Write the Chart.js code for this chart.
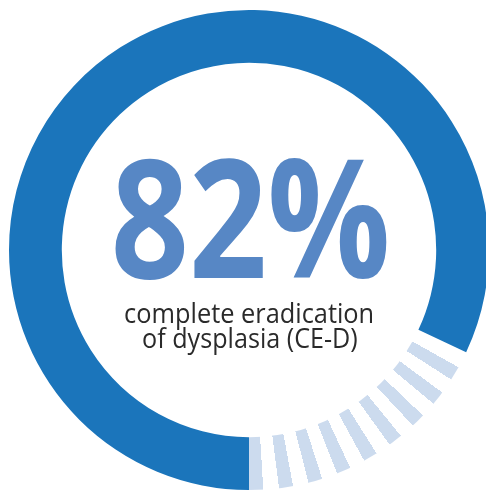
<!DOCTYPE html>
<html>
<head>
<meta charset="utf-8">
<script src="https://cdn.jsdelivr.net/npm/chart.js@4/dist/chart.umd.min.js"></script>
<style>
  html, body { margin: 0; padding: 0; background: #ffffff; overflow: hidden; width: 486px; height: 490px; }
  #wrap { position: absolute; left: 0; top: 0; width: 492px; height: 490px; }
</style>
</head>
<body>
<div id="wrap"><canvas id="chart" width="492" height="490"></canvas></div>
<script>
// ---- data ----
const categories = ['Complete eradication of dysplasia (CE-D)', 'No complete eradication'];
const values = [82, 18];
const headlineText = '82%';
const captionLines = ['complete eradication', 'of dysplasia (CE-D)'];

// ---- style ----
const DARK = '#1b75bb';
const LIGHT = '#ccdbee';
const HEAD_COLOR = '#5787c5';
const CAPTION_COLOR = '#2a2a2a';
const ROTATION_DEG = 180;
const STRIPE_PERIOD_DEG = 7.17;
const STRIPE_WIDTH_DEG = 3.4;

function stripeGradient(chart) {
  const area = chart.chartArea;
  if (!area) return LIGHT;
  const cx = (area.left + area.right) / 2;
  const cy = (area.top + area.bottom) / 2;
  const total = values.reduce((a, b) => a + b, 0);
  const start = (ROTATION_DEG - 90) * Math.PI / 180 + 2 * Math.PI * values[0] / total;
  const L = values[1] / total;
  const P = STRIPE_PERIOD_DEG / 360, W = STRIPE_WIDTH_DEG / 360;
  const g = chart.ctx.createConicGradient(start, cx, cy);
  const clear = 'rgba(255,255,255,0)';
  const stripes = [];
  for (let k = 0; ; k++) {
    const e = L - k * P, s = e - W;
    if (s < 0) break;
    stripes.push([s, e]);
  }
  stripes.reverse();
  g.addColorStop(0, clear);
  for (const [s, e] of stripes) {
    g.addColorStop(s, clear);
    g.addColorStop(s, LIGHT);
    g.addColorStop(e, LIGHT);
    g.addColorStop(Math.min(e + 0.00001, 1), clear);
  }
  g.addColorStop(1, clear);
  return g;
}

function drawFitted(ctx, text, font, color, left, right, baseline, inkHeight, measureStr) {
  ctx.save();
  ctx.font = font(100);
  ctx.textAlign = 'left';
  ctx.textBaseline = 'alphabetic';
  const probe = ctx.measureText(measureStr);
  const size = 100 * inkHeight / probe.actualBoundingBoxAscent;
  ctx.font = font(size);
  const m = ctx.measureText(text);
  const inkW = m.actualBoundingBoxLeft + m.actualBoundingBoxRight;
  const sx = (right - left) / inkW;
  ctx.fillStyle = color;
  ctx.translate(left, baseline);
  ctx.scale(sx, 1);
  ctx.fillText(text, m.actualBoundingBoxLeft, 0);
  ctx.restore();
}

const centerText = {
  id: 'centerText',
  afterDraw(chart) {
    const ctx = chart.ctx;
    drawFitted(ctx, headlineText, s => `bold ${s}px "Open Sans"`, HEAD_COLOR, 115, 387, 278, 121, '82');
    drawFitted(ctx, captionLines[0], s => `${s}px "Open Sans"`, CAPTION_COLOR, 125, 373, 322.7, 14.3, 'x');
    drawFitted(ctx, captionLines[1], s => `${s}px "Open Sans"`, CAPTION_COLOR, 143, 357, 348.3, 14.3, 'x');
  }
};

new Chart(document.getElementById('chart'), {
  type: 'doughnut',
  data: {
    labels: categories,
    datasets: [{
      data: values,
      backgroundColor: (c) => c.dataIndex === 0 ? DARK : stripeGradient(c.chart),
      borderWidth: 0,
      hoverOffset: 0
    }]
  },
  options: {
    responsive: false,
    devicePixelRatio: 1,
    animation: false,
    rotation: ROTATION_DEG,
    cutout: '78%',
    layout: { padding: { left: 9, right: 3, top: 10, bottom: 0 } },
    plugins: { legend: { display: false }, tooltip: { enabled: false } },
    events: []
  },
  plugins: [centerText]
});
</script>
</body>
</html>
